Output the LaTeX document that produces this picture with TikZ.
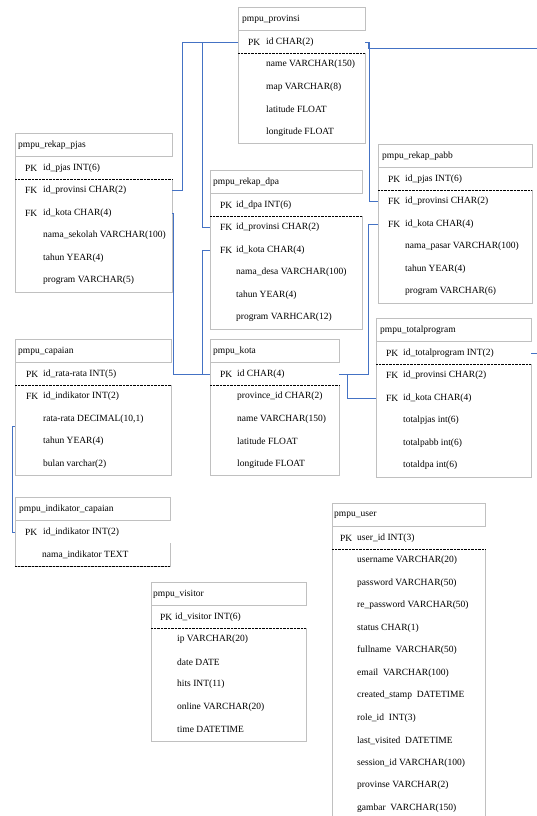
\documentclass[tikz,border=0pt]{standalone}
\usepackage{fontspec}
\setmainfont{Liberation Serif}
\usetikzlibrary{calc}

\definecolor{linkblue}{RGB}{68,114,196}
\definecolor{framegray}{RGB}{192,192,192}

\tikzset{
  tblframe/.style={draw=framegray, line width=0.8pt, fill=white, rectangle,
    anchor=north west, inner sep=0pt, outer sep=0pt},
  txt/.style={anchor=west, inner sep=0pt, font=\fontsize{9.5}{11}\selectfont},
  titlesep/.style={draw=framegray, line width=0.7pt},
  keysep/.style={black, line width=0.6pt, dash pattern=on 0.7pt off 0.7pt},
  link/.style={draw=linkblue, line width=0.8pt},
}

% table frame: name, x, top, width, height, title dx, title
\newcommand\ertable[7]{%
  \node[tblframe, minimum width=#4pt, minimum height=#5pt] (#1) at (#2,#3) {};
  \draw[titlesep] ($(#1.north west)+(0,23.5)$) -- ($(#1.north east)+(0,23.5)$);
  \node[txt] (#1-title) at ($(#1.north west)+(#6,12)$) {#7};}
% key row opening: white gap in the right border
\newcommand\pkgap[1]{%
  \fill[white] ($(#1.north east)+(-0.4,24)$) rectangle ($(#1.north east)+(1.2,46)$);}
% dotted line under the primary key
\newcommand\pksep[1]{%
  \draw[keysep] ($(#1.north west)+(0,46.5)$) -- ($(#1.north east)+(0,46.5)$);}
% rows: table, row name, index, [key label], text
\newcommand\keyrow[5]{%
  \node[txt] (#1-#2-key) at ($(#1.north west)+(\kdx,35+22.5*#3)$) {#4};
  \node[txt] (#1-#2) at ($(#1.north west)+(\fdx,35+22.5*#3)$) {#5};}
\newcommand\plainrow[4]{%
  \node[txt] (#1-#2) at ($(#1.north west)+(\odx,35+22.5*#3)$) {#4};}

\begin{document}
\begin{tikzpicture}[x=1pt, y=-1pt]
\fill[white] (0,0) rectangle (537,816);
\useasboundingbox (0,0) rectangle (537,816);

% ---------- pmpu_provinsi
\def\kdx{10}\def\fdx{28}\def\odx{28}
\ertable{prov}{238}{7}{127}{136.5}{4}{pmpu\_provinsi}
\pkgap{prov}\pksep{prov}
\keyrow{prov}{pk}{0}{PK}{id CHAR(2)}
\plainrow{prov}{name}{1}{name VARCHAR(150)}
\plainrow{prov}{map}{2}{map VARCHAR(8)}
\plainrow{prov}{lat}{3}{latitude FLOAT}
\plainrow{prov}{lon}{4}{longitude FLOAT}

% ---------- pmpu_rekap_pjas
\ertable{pjas}{15}{133}{157}{159}{3}{pmpu\_rekap\_pjas}
\pkgap{pjas}\pksep{pjas}
\keyrow{pjas}{pk}{0}{PK}{id\_pjas INT(6)}
\keyrow{pjas}{fk1}{1}{FK}{id\_provinsi CHAR(2)}
\keyrow{pjas}{fk2}{2}{FK}{id\_kota CHAR(4)}
\plainrow{pjas}{nama}{3}{nama\_sekolah VARCHAR(100)}
\plainrow{pjas}{tahun}{4}{tahun YEAR(4)}
\plainrow{pjas}{prog}{5}{program VARCHAR(5)}

% ---------- pmpu_rekap_dpa
\def\fdx{26}\def\odx{26}
\ertable{dpa}{210}{170}{152}{159}{3}{pmpu\_rekap\_dpa}
\pkgap{dpa}\pksep{dpa}
\keyrow{dpa}{pk}{0}{PK}{id\_dpa INT(6)}
\keyrow{dpa}{fk1}{1}{FK}{id\_provinsi CHAR(2)}
\keyrow{dpa}{fk2}{2}{FK}{id\_kota CHAR(4)}
\plainrow{dpa}{nama}{3}{nama\_desa VARCHAR(100)}
\plainrow{dpa}{tahun}{4}{tahun YEAR(4)}
\plainrow{dpa}{prog}{5}{program VARHCAR(12)}

% ---------- pmpu_rekap_pabb
\def\fdx{27}\def\odx{27}
\ertable{pabb}{378}{144}{154}{159}{4}{pmpu\_rekap\_pabb}
\pkgap{pabb}\pksep{pabb}
\keyrow{pabb}{pk}{0}{PK}{id\_pjas INT(6)}
\keyrow{pabb}{fk1}{1}{FK}{id\_provinsi CHAR(2)}
\keyrow{pabb}{fk2}{2}{FK}{id\_kota CHAR(4)}
\plainrow{pabb}{nama}{3}{nama\_pasar VARCHAR(100)}
\plainrow{pabb}{tahun}{4}{tahun YEAR(4)}
\plainrow{pabb}{prog}{5}{program VARCHAR(6)}

% ---------- pmpu_capaian
\def\kdx{11}\def\fdx{28}\def\odx{28}
\ertable{cap}{15}{339}{156}{136.5}{3}{pmpu\_capaian}
\pkgap{cap}\pksep{cap}
\keyrow{cap}{pk}{0}{PK}{id\_rata-rata INT(5)}
\keyrow{cap}{fk1}{1}{FK}{id\_indikator INT(2)}
\plainrow{cap}{rata}{2}{rata-rata DECIMAL(10,1)}
\plainrow{cap}{tahun}{3}{tahun YEAR(4)}
\plainrow{cap}{bulan}{4}{bulan varchar(2)}

% ---------- pmpu_kota
\def\kdx{10}\def\fdx{27}\def\odx{27}
\ertable{kota}{210}{339}{129}{136.5}{3}{pmpu\_kota}
\pkgap{kota}\pksep{kota}
\keyrow{kota}{pk}{0}{PK}{id CHAR(4)}
\plainrow{kota}{prov}{1}{province\_id CHAR(2)}
\plainrow{kota}{name}{2}{name VARCHAR(150)}
\plainrow{kota}{lat}{3}{latitude FLOAT}
\plainrow{kota}{lon}{4}{longitude FLOAT}

% ---------- pmpu_totalprogram
\ertable{total}{376}{318}{155}{159}{4}{pmpu\_totalprogram}
\pkgap{total}\pksep{total}
\keyrow{total}{pk}{0}{PK}{id\_totalprogram INT(2)}
\keyrow{total}{fk1}{1}{FK}{id\_provinsi CHAR(2)}
\keyrow{total}{fk2}{2}{FK}{id\_kota CHAR(4)}
\plainrow{total}{pjas}{3}{totalpjas int(6)}
\plainrow{total}{pabb}{4}{totalpabb int(6)}
\plainrow{total}{dpa}{5}{totaldpa int(6)}

% ---------- pmpu_indikator_capaian (dotted rule at the bottom)
\def\fdx{28}\def\odx{27}
\ertable{ind}{15}{497}{155}{69}{4}{pmpu\_indikator\_capaian}
\pkgap{ind}
\draw[keysep] (ind.south west) -- (ind.south east);
\keyrow{ind}{pk}{0}{PK}{id\_indikator INT(2)}
\plainrow{ind}{nama}{1}{nama\_indikator TEXT}

% ---------- pmpu_visitor
\def\kdx{9}\def\fdx{24}\def\odx{26}
\ertable{vis}{151}{582}{155}{159}{2}{pmpu\_visitor}
\pkgap{vis}\pksep{vis}
\keyrow{vis}{pk}{0}{PK}{id\_visitor INT(6)}
\plainrow{vis}{ip}{1}{ip VARCHAR(20)}
\plainrow{vis}{date}{2}{date DATE}
\plainrow{vis}{hits}{3}{hits INT(11)}
\plainrow{vis}{online}{4}{online VARCHAR(20)}
\plainrow{vis}{time}{5}{time DATETIME}

% ---------- pmpu_user (runs past the lower edge)
\def\kdx{8}\def\fdx{25}\def\odx{25}
\ertable{user}{332}{503}{153}{330}{2}{pmpu\_user}
\pkgap{user}\pksep{user}
\keyrow{user}{pk}{0}{PK}{user\_id INT(3)}
\plainrow{user}{r1}{1}{username VARCHAR(20)}
\plainrow{user}{r2}{2}{password VARCHAR(50)}
\plainrow{user}{r3}{3}{re\_password VARCHAR(50)}
\plainrow{user}{r4}{4}{status CHAR(1)}
\plainrow{user}{r5}{5}{fullname~ VARCHAR(50)}
\plainrow{user}{r6}{6}{email~ VARCHAR(100)}
\plainrow{user}{r7}{7}{created\_stamp~ DATETIME}
\plainrow{user}{r8}{8}{role\_id~ INT(3)}
\plainrow{user}{r9}{9}{last\_visited~ DATETIME}
\plainrow{user}{r10}{10}{session\_id VARCHAR(100)}
\plainrow{user}{r11}{11}{provinse VARCHAR(2)}
\plainrow{user}{r12}{12}{gambar~ VARCHAR(150)}

% ---------- relations
\coordinate (edgeR) at (537,0);
\draw[link] (prov-pk -| prov.west) -- ++(-56,0) |- (pjas-fk1 -| pjas.east);
\draw[link] (prov-pk -| prov.west) -- ++(-36,0) |- (dpa-fk1 -| dpa.west);
\draw[link] (prov-pk -| prov.east) -- ++(4,0) |- (pabb-fk1 -| pabb.west);
\draw[link] (prov-pk -| prov.east) -- ++(3,0) -- ++(0,6) -- ++(169,0);
\draw[link] (total-pk -| total.east) -- (total-pk -| edgeR);
\draw[link] (pjas-fk2 -| pjas.east) -- ++(1,0) |- (kota-pk -| kota.west);
\draw[link] (dpa-fk2 -| dpa.west) -- ++(-8,0) |- (kota-pk -| kota.west);
\draw[link] (kota-pk -| kota.east) -- ++(29,0) |- (pabb-fk2 -| pabb.west);
\draw[link] (kota-pk -| kota.east) -- ++(8,0) |- (total-fk2 -| total.west);
\draw[link] ($(cap-rata -| cap.west)+(0,7)$) -- ++(-3,0) |- (ind-pk -| ind.west);
\end{tikzpicture}
\end{document}
